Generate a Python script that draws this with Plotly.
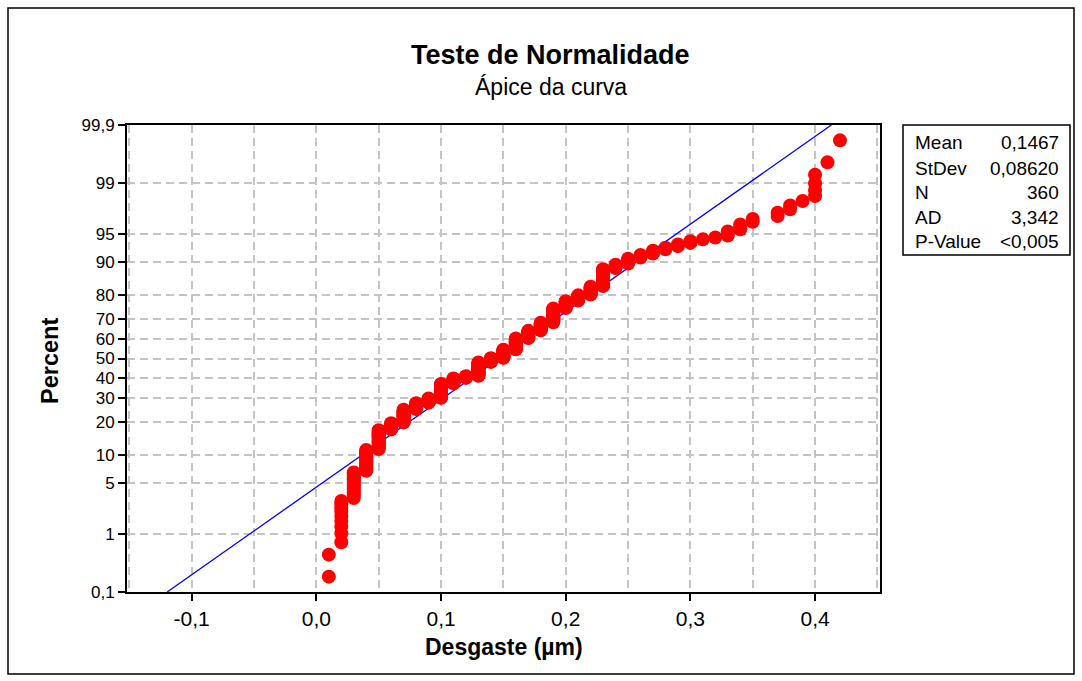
from statistics import NormalDist
import plotly.graph_objects as go

# Wear values (µm) and how many of the 360 measurements fall on each value
desgaste = [0.01, 0.02, 0.03, 0.04, 0.05, 0.06, 0.07, 0.08, 0.09, 0.10,
            0.11, 0.12, 0.13, 0.14, 0.15, 0.16, 0.17, 0.18, 0.19, 0.20,
            0.21, 0.22, 0.23, 0.24, 0.25, 0.26, 0.27, 0.28, 0.29, 0.30,
            0.31, 0.32, 0.33, 0.34, 0.35, 0.37, 0.38, 0.39, 0.40, 0.41, 0.42]
contagem = [2, 9, 13, 17, 21, 9, 19, 10, 8, 25,
            10, 4, 26, 8, 16, 21, 14, 14, 23, 11,
            8, 11, 19, 4, 5, 3, 3, 2, 2, 2,
            1, 1, 3, 3, 2, 2, 2, 1, 4, 1, 1]

# Summary statistics shown in the side box
media = 0.1467
desvio = 0.08620
n_total = 360
stat_labels = ["Mean", "StDev", "N", "AD", "P-Value"]
stat_values = ["0,1467", "0,08620", "360", "3,342", "<0,005"]

# Probability-scale ticks (percent) and their labels
pct_ticks = [0.1, 1, 5, 10, 20, 30, 40, 50, 60, 70, 80, 90, 95, 99, 99.9]
pct_text = ["0,1", "1", "5", "10", "20", "30", "40", "50", "60", "70",
            "80", "90", "95", "99", "99,9"]
x_ticks = [-0.1, 0.0, 0.1, 0.2, 0.3, 0.4]
x_text = ["-0,1", "0,0", "0,1", "0,2", "0,3", "0,4"]

nd = NormalDist()

# Median-rank plotting positions (i - 0.3) / (n + 0.4), shown on a normal scale
xs, zs = [], []
rank = 0
for v, c in zip(desgaste, contagem):
    for _ in range(c):
        rank += 1
        xs.append(v)
        zs.append(nd.inv_cdf((rank - 0.3) / (n_total + 0.4)))

z_lo = nd.inv_cdf(0.001)
z_hi = nd.inv_cdf(0.999)

# Fitted normal line between 0.1 % and 99.9 %
line_x = [media + desvio * z_lo, media + desvio * z_hi]
line_z = [z_lo, z_hi]

FONT = "Liberation Sans, Arial, sans-serif"
W, H = 1082, 681
L, R, T, B = 127, 880, 125, 592


def px(xp):
    return (xp - L) / (R - L)


def py(yp):
    return (B - yp) / (B - T)


fig = go.Figure()
fig.add_trace(go.Scatter(x=line_x, y=line_z, mode="lines",
                         line=dict(color="#0000ff", width=1.3),
                         hoverinfo="skip", showlegend=False))
fig.add_trace(go.Scatter(x=xs, y=zs, mode="markers",
                         marker=dict(color="#ff0000", size=14, line=dict(width=0)),
                         showlegend=False))

grid = dict(gridcolor="#c4c4c4", griddash="8px,5px", gridwidth=1.5)

fig.update_xaxes(range=[-0.1519, 0.4521], tickvals=x_ticks, ticktext=x_text,
                 ticks="outside", ticklen=7, tickwidth=1.5, tickcolor="black",
                 showline=True, linecolor="black", linewidth=2, mirror=True,
                 showgrid=True, zeroline=False,
                 minor=dict(dtick=0.05, tick0=0, showgrid=True, ticks="",
                            gridcolor="#c4c4c4", griddash="8px,5px", gridwidth=1.5),
                 tickfont=dict(family=FONT, size=21, color="black"), **grid)
fig.update_yaxes(range=[z_lo, z_hi],
                 tickvals=[nd.inv_cdf(p / 100) for p in pct_ticks], ticktext=pct_text,
                 ticks="outside", ticklen=7, tickwidth=1.5, tickcolor="black",
                 showline=True, linecolor="black", linewidth=2, mirror=True,
                 showgrid=True, zeroline=False,
                 tickfont=dict(family=FONT, size=17, color="black"), **grid)


def label(text, x, y, size, xanchor="center", angle=0):
    return dict(text=text, x=px(x), y=py(y), xref="paper", yref="paper",
                xanchor=xanchor, yanchor="middle", showarrow=False, textangle=angle,
                font=dict(family=FONT, size=size, color="black"))


annotations = [
    label("<b>Teste de Normalidade</b>", 550.5, 55, 27),
    label("Ápice da curva", 550.5, 87, 23),
    label("<b>Desgaste (µm)</b>", 503.5, 647, 23),
    label("<b>Percent</b>", 50, 361, 23.5, angle=-90),
]
row_y = [143, 168, 192, 217, 241]
for lab, val, yy in zip(stat_labels, stat_values, row_y):
    annotations.append(label(lab, 913, yy, 19, xanchor="left"))
    annotations.append(label(val, 1061, yy, 19, xanchor="right"))

shapes = [
    dict(type="rect", xref="paper", yref="paper", x0=px(903), x1=px(1070),
         y0=py(255), y1=py(125), line=dict(color="black", width=1.5)),
    dict(type="rect", xref="paper", yref="paper", x0=px(8), x1=px(1074),
         y0=py(674), y1=py(8), line=dict(color="black", width=1.5)),
]

fig.update_layout(width=W, height=H, margin=dict(l=L, r=W - R, t=T, b=H - B),
                  paper_bgcolor="white", plot_bgcolor="white",
                  annotations=annotations, shapes=shapes, showlegend=False)

fig.write_html("out.html")
